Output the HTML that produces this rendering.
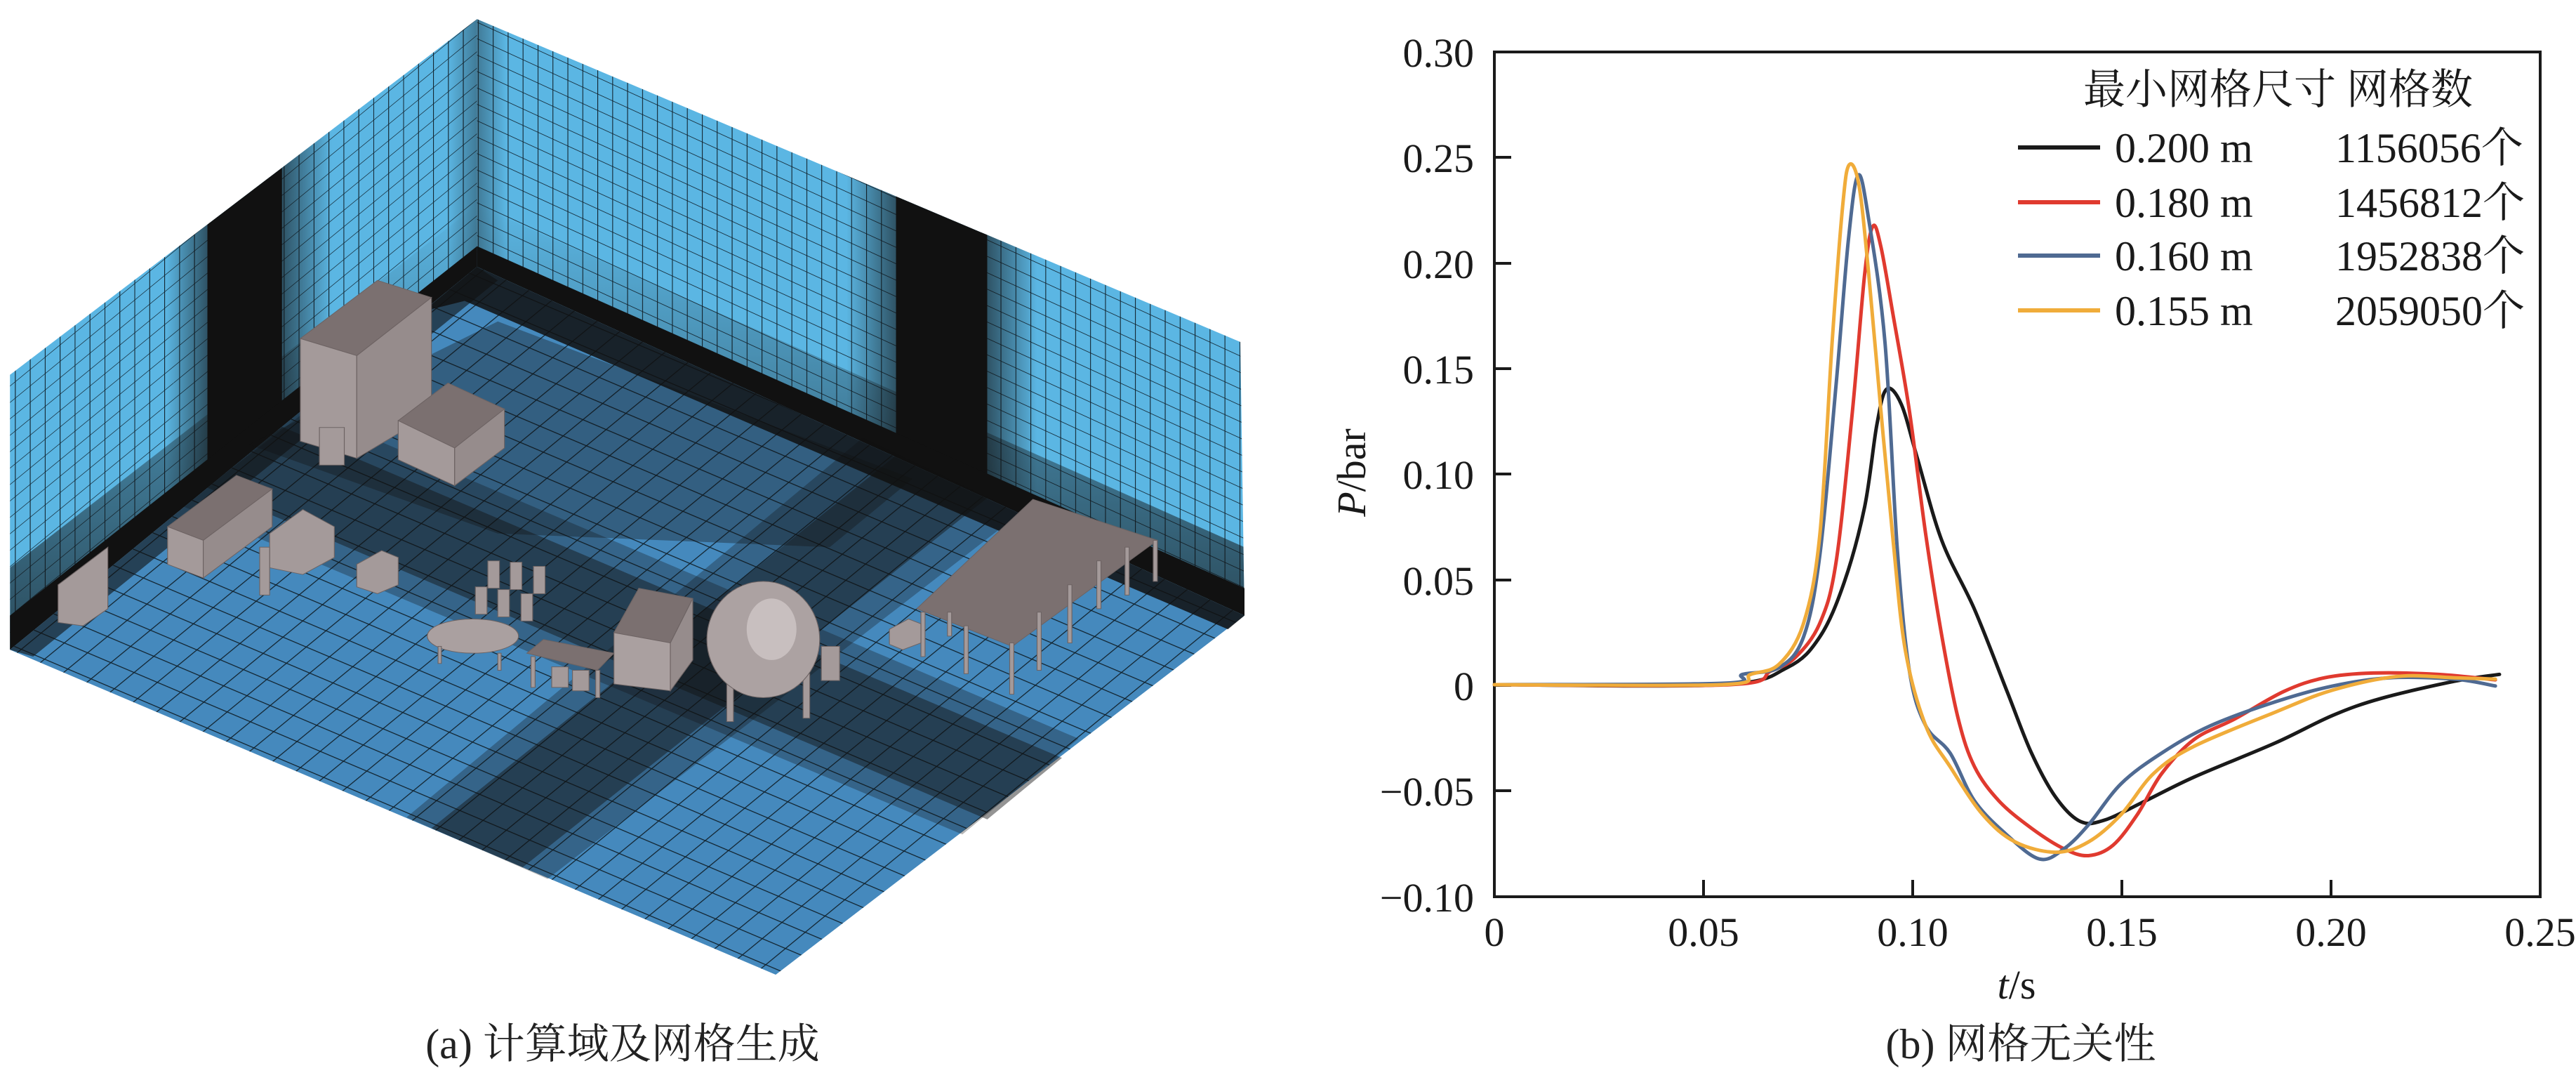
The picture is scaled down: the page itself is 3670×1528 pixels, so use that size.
<!DOCTYPE html>
<html><head><meta charset="utf-8"><style>html,body{margin:0;padding:0;background:#fff}svg{display:block}</style></head><body>
<svg width="3670" height="1528" viewBox="0 0 3670 1528" xmlns="http://www.w3.org/2000/svg">
<defs>
<pattern id="wl" patternUnits="userSpaceOnUse" width="18" height="24" patternTransform="skewY(-44.9)">
<rect width="18" height="24" fill="#5bb6e3"/><path d="M0 0V24M0 0H18" stroke="#10202a" stroke-width="1.8"/></pattern>
<pattern id="wr" patternUnits="userSpaceOnUse" width="18" height="24" patternTransform="skewY(29.1)">
<rect width="18" height="24" fill="#5bb6e3"/><path d="M0 0V24M0 0H18" stroke="#10202a" stroke-width="1.8"/></pattern>
<pattern id="fa" patternUnits="userSpaceOnUse" width="30" height="30" patternTransform="rotate(-44.9)">
<rect width="30" height="30" fill="#4589bd"/><path d="M0 0H30" stroke="#10202a" stroke-width="2.4"/></pattern>
<pattern id="fb" patternUnits="userSpaceOnUse" width="32" height="32" patternTransform="rotate(27.2)">
<path d="M0 0H32" stroke="#10202a" stroke-width="2.4"/></pattern>
<linearGradient id="gl" x1="0" x2="1" y1="0" y2="0"><stop offset="0" stop-color="#111" stop-opacity="0"/><stop offset="1" stop-color="#111" stop-opacity="0.6"/></linearGradient>
<linearGradient id="gr" x1="0" x2="1" y1="0" y2="0"><stop offset="0" stop-color="#111" stop-opacity="0.6"/><stop offset="1" stop-color="#111" stop-opacity="0"/></linearGradient>
<linearGradient id="gb" x1="0" x2="0" y1="0" y2="1"><stop offset="0" stop-color="#111" stop-opacity="0"/><stop offset="1" stop-color="#111" stop-opacity="0.6"/></linearGradient>
<clipPath id="walls"><polygon points="12,548 575,28 1495,500 1500,900 575,390 12,950"/></clipPath>
</defs>
<g transform="matrix(1.182,0,0,0.974,0,0)">
<polygon points="12,548 575,28 575,390 12,950" fill="url(#wl)"/>
<polygon points="575,28 1495,500 1500,900 575,390" fill="url(#wr)"/>
<g clip-path="url(#walls)">
<polygon points="200,300 250,250 250,713 200,763" fill="url(#gl)"/>
<polygon points="340,180 400,130 400,565 340,624" fill="url(#gr)"/>
<polygon points="1020,240 1080,270 1080,666 1020,632" fill="url(#gl)"/>
<polygon points="1190,320 1250,350 1250,762 1190,728" fill="url(#gr)"/>
<polygon points="540,40 575,20 575,390 540,420" fill="url(#gl)" opacity="0.6"/>
<polygon points="575,20 610,40 610,410 575,390" fill="url(#gr)" opacity="0.6"/>
<polygon points="575,300 1500,800 1500,860 575,360" fill="url(#gb)"/>
<polygon points="12,830 575,300 575,360 12,900" fill="url(#gb)"/>
<polygon points="250,250 340,170 340,624 250,713" fill="#111"/>
<polygon points="1080,270 1190,320 1190,728 1080,666" fill="#111"/>
</g>
<polygon points="12,900 575,360 575,390 12,950" fill="#111"/>
<polygon points="575,360 1500,860 1500,900 575,390" fill="#111"/>
<polygon points="12,950 575,390 1500,900 935,1425" fill="url(#fa)"/>
<polygon points="12,950 575,390 1500,900 935,1425" fill="url(#fb)"/>
<polygon points="575,390 1500,900 1480,920 560,440 510,455" fill="#111" opacity="0.85"/>
<polygon points="12,950 575,390 600,410 40,960" fill="#111" opacity="0.6"/>
<polygon points="220,740 370,600 1300,1080 1160,1220" fill="#111" opacity="0.3"/>
<polygon points="250,713 340,624 1280,1108 1190,1198" fill="#111" opacity="0.45"/>
<polygon points="1040,640 1230,750 660,1285 490,1195" fill="#111" opacity="0.3"/>
<polygon points="1080,666 1190,728 630,1268 520,1211" fill="#111" opacity="0.45"/>
<polygon points="300,650 600,470 1100,700 1000,800 600,780" fill="#111" opacity="0.35"/>
<g stroke="#6d6363" stroke-width="1">
<polygon points="362,495 455,410 520,435 430,520" fill="#7b7070"/>
<polygon points="362,495 430,520 430,670 362,645" fill="#a49a9a"/>
<polygon points="430,520 520,435 520,605 430,670" fill="#968c8c"/>
<rect x="385" y="625" width="30" height="55" fill="#a49a9a"/>
<polygon points="480,615 540,560 608,598 548,655" fill="#7b7070"/>
<polygon points="480,615 548,655 548,710 480,672" fill="#a49a9a"/>
<polygon points="548,655 608,598 608,655 548,710" fill="#968c8c"/>
<polygon points="202,770 285,695 328,715 245,790" fill="#7b7070"/>
<polygon points="202,770 245,790 245,845 202,825" fill="#a49a9a"/>
<polygon points="245,790 328,715 328,770 245,845" fill="#968c8c"/>
<polygon points="70,855 130,800 130,890 100,915 70,910" fill="#a49a9a"/>
<polygon points="325,780 365,745 403,770 403,815 365,840 325,830" fill="#a49a9a"/>
<rect x="313" y="800" width="12" height="70" fill="#a49a9a"/>
<polygon points="430,825 460,805 480,815 480,855 455,868 430,858" fill="#a49a9a"/>
<rect x="588" y="820" width="14" height="40" fill="#a49a9a"/><rect x="615" y="822" width="14" height="40" fill="#a49a9a"/><rect x="643" y="828" width="14" height="40" fill="#a49a9a"/>
<rect x="573" y="858" width="14" height="40" fill="#a49a9a"/><rect x="600" y="862" width="14" height="40" fill="#a49a9a"/><rect x="628" y="868" width="14" height="40" fill="#a49a9a"/>
<ellipse cx="570" cy="930" rx="55" ry="25" fill="#aaa0a0"/>
<rect x="528" y="945" width="4" height="25" fill="#a49a9a"/><rect x="600" y="955" width="4" height="25" fill="#a49a9a"/>
<polygon points="635,955 655,935 740,955 720,980" fill="#7b7070"/>
<rect x="640" y="960" width="5" height="45" fill="#a49a9a"/><rect x="665" y="975" width="20" height="30" fill="#a49a9a"/><rect x="690" y="980" width="20" height="30" fill="#a49a9a"/><rect x="718" y="980" width="5" height="40" fill="#a49a9a"/>
<polygon points="740,925 770,860 835,875 808,940" fill="#7b7070"/>
<polygon points="740,925 808,940 808,1010 740,1000" fill="#aaa0a0"/>
<polygon points="808,940 835,875 835,965 808,1010" fill="#968c8c"/>
<rect x="876" y="990" width="8" height="65" fill="#a49a9a"/><rect x="968" y="985" width="8" height="65" fill="#a49a9a"/>
<ellipse cx="920" cy="935" rx="68" ry="85" fill="#aca2a2"/>
<ellipse cx="930" cy="920" rx="30" ry="45" fill="#c8bfbf" stroke="none"/>
<rect x="990" y="945" width="22" height="50" fill="#a49a9a"/>
<polygon points="1105,890 1245,730 1395,790 1220,945" fill="#7b7070"/>
<g fill="#a49a9a"><rect x="1110" y="895" width="5" height="65"/><rect x="1162" y="915" width="5" height="70"/><rect x="1217" y="940" width="5" height="75"/><rect x="1250" y="895" width="5" height="85"/><rect x="1287" y="855" width="5" height="85"/><rect x="1322" y="820" width="5" height="70"/><rect x="1356" y="800" width="5" height="70"/><rect x="1390" y="790" width="5" height="60"/><rect x="1142" y="895" width="5" height="35"/></g>
<polygon points="1072,920 1095,905 1110,912 1110,940 1088,950 1072,942" fill="#a49a9a"/>
</g>
</g>
<text x="887" y="1507" font-family="Liberation Serif, Noto Serif CJK SC, serif" font-size="60" text-anchor="middle" fill="#222">(a) 计算域及网格生成</text>
<g font-family="Liberation Serif, serif" font-size="58" fill="#1a1a1a">
<g text-anchor="end">
<text x="2100" y="95">0.30</text><text x="2100" y="245">0.25</text><text x="2100" y="396">0.20</text><text x="2100" y="546">0.15</text><text x="2100" y="696">0.10</text><text x="2100" y="847">0.05</text><text x="2100" y="997">0</text><text x="2100" y="1147">−0.05</text><text x="2100" y="1298">−0.10</text>
</g>
<g text-anchor="middle">
<text x="2129" y="1347">0</text><text x="2427" y="1347">0.05</text><text x="2725" y="1347">0.10</text><text x="3023" y="1347">0.15</text><text x="3321" y="1347">0.20</text><text x="3619" y="1347">0.25</text>
<text x="2873" y="1422"><tspan font-style="italic">t</tspan>/s</text>
</g>
<text transform="translate(1945,673) rotate(-90)" text-anchor="middle"><tspan font-style="italic">P</tspan>/bar</text>
</g>
<g stroke="#1a1a1a" stroke-width="4" fill="none">
<rect x="2129" y="74" width="1490" height="1203"/>
<path d="M2129 224h24M2129 375h24M2129 525h24M2129 675h24M2129 826h24M2129 976h24M2129 1126h24M2427 1277v-24M2725 1277v-24M3023 1277v-24M3321 1277v-24"/>
</g>
<g id="curves" fill="none" stroke-width="5" stroke-linejoin="round" stroke-linecap="round" transform="matrix(1.1595,0,0,0.974,1850.7,0.95)">
<polyline vector-effect="non-scaling-stroke" stroke="#1a1a1a" points="240,1000 520,1000 600,975 640,930 670,850 695,740 710,620 722,568 740,590 760,670 790,790 830,890 870,1010 900,1100 930,1165 960,1200 990,1198 1040,1170 1100,1135 1200,1085 1270,1045 1330,1020 1420,995 1475,985"/>
<polyline vector-effect="non-scaling-stroke" stroke="#e03a2f" points="240,1000 530,1000 580,980 610,960 640,910 660,820 680,600 695,400 705,330 715,360 730,460 750,600 770,780 790,930 810,1050 830,1120 860,1170 900,1210 940,1240 970,1250 1000,1235 1030,1190 1060,1130 1100,1080 1150,1050 1210,1010 1260,990 1320,983 1400,985 1470,993"/>
<polyline vector-effect="non-scaling-stroke" stroke="#4f6a92" points="240,1000 520,998 545,985 590,975 620,930 640,810 660,560 675,350 687,255 700,320 720,500 735,800 750,980 770,1060 800,1100 830,1170 870,1220 910,1255 940,1240 970,1205 1010,1145 1060,1100 1120,1060 1200,1025 1270,1002 1340,990 1420,992 1470,1002"/>
<polyline vector-effect="non-scaling-stroke" stroke="#f0ac3a" points="240,1000 520,1000 555,985 590,970 620,910 640,780 655,500 668,300 676,240 688,270 700,400 715,600 730,790 745,950 770,1060 800,1120 840,1190 880,1230 930,1245 970,1230 1010,1190 1050,1130 1100,1090 1200,1040 1270,1008 1350,988 1420,990 1470,992"/>
</g>
<g font-family="Liberation Serif, Noto Serif CJK SC, serif" font-size="60" fill="#1a1a1a">
<text x="2968" y="148">最小网格尺寸  网格数</text>
<text x="3013" y="231">0.200 m</text><text x="3327" y="231">1156056个</text>
<text x="3013" y="309">0.180 m</text><text x="3327" y="309">1456812个</text>
<text x="3013" y="385">0.160 m</text><text x="3327" y="385">1952838个</text>
<text x="3013" y="463">0.155 m</text><text x="3327" y="463">2059050个</text>
</g>
<g stroke-width="6">
<line x1="2875" y1="210" x2="2992" y2="210" stroke="#1a1a1a"/>
<line x1="2875" y1="288" x2="2992" y2="288" stroke="#e03a2f"/>
<line x1="2875" y1="364" x2="2992" y2="364" stroke="#4f6a92"/>
<line x1="2875" y1="442" x2="2992" y2="442" stroke="#f0ac3a"/>
</g>
<text x="2879" y="1507" font-family="Liberation Serif, Noto Serif CJK SC, serif" font-size="60" text-anchor="middle" fill="#222">(b) 网格无关性</text>
</svg>
<script>
(function(){
var ns="http://www.w3.org/2000/svg";
var pls=document.querySelectorAll('#curves polyline');
for(var k=0;k<pls.length;k++){
var pl=pls[k];var pts=pl.getAttribute('points').trim().split(/\s+/).map(function(s){var a=s.split(',');return[+a[0],+a[1]];});
var d='M'+pts[0][0]+' '+pts[0][1];
for(var i=0;i<pts.length-1;i++){
var p0=pts[i-1]||pts[i],p1=pts[i],p2=pts[i+1],p3=pts[i+2]||p2;
var c1x=p1[0]+(p2[0]-p0[0])/6,c1y=p1[1]+(p2[1]-p0[1])/6,c2x=p2[0]-(p3[0]-p1[0])/6,c2y=p2[1]-(p3[1]-p1[1])/6;
d+=' C'+c1x+' '+c1y+' '+c2x+' '+c2y+' '+p2[0]+' '+p2[1];}
var p=document.createElementNS(ns,'path');p.setAttribute('d',d);p.setAttribute('stroke',pl.getAttribute('stroke'));p.setAttribute('vector-effect','non-scaling-stroke');
pl.parentNode.replaceChild(p,pl);}
})();
</script>
</body></html>
